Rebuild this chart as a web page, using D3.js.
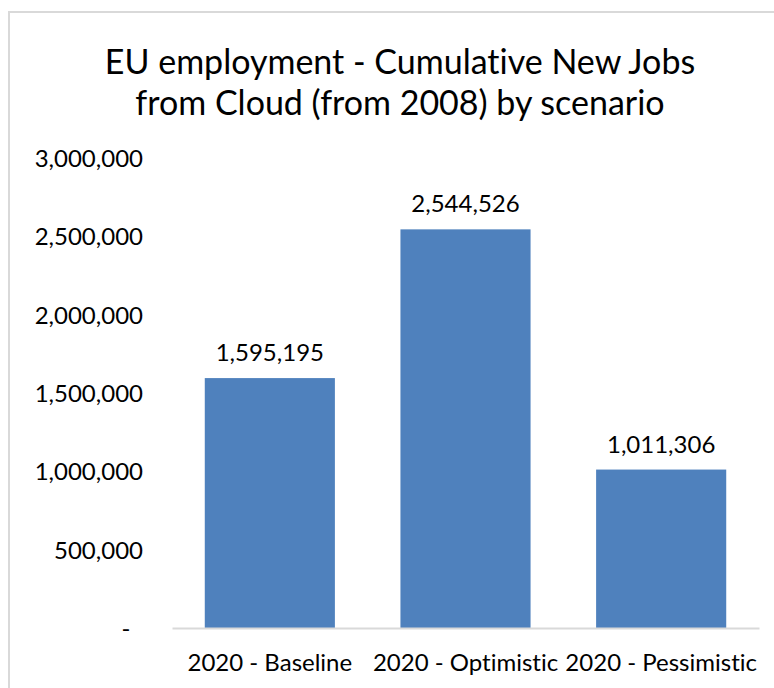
<!DOCTYPE html>
<html>
<head>
<meta charset="utf-8">
<script src="https://cdn.jsdelivr.net/npm/d3@7"></script>
<style>
  html, body { margin: 0; padding: 0; background: #fff; }
  svg { display: block; font-family: Lato, "Open Sans", sans-serif; font-variant-ligatures: none; }
</style>
</head>
<body>
<svg id="chart" width="774" height="688"></svg>
<script>
// Cumulative new EU jobs from cloud computing, by 2020 scenario
const categories = ["2020 - Baseline", "2020 - Optimistic", "2020 - Pessimistic"];
const jobs = [1595195, 2544526, 1011306];
const yTicks = [0, 500000, 1000000, 1500000, 2000000, 2500000, 3000000];
const titleLines = ["EU employment - Cumulative New Jobs", "from Cloud (from 2008) by scenario"];

const svg = d3.select("#chart");
const W = 774, H = 688;
const plot = { left: 172, right: 759, top: 158, bottom: 628 };

// outer chart frame
svg.append("rect")
  .attr("x", 9).attr("y", 12)
  .attr("width", W + 20).attr("height", H + 20)
  .attr("fill", "#fff")
  .attr("stroke", "#d9d9d9").attr("stroke-width", 2);

// title
svg.append("g").selectAll("text")
  .data(titleLines)
  .join("text")
  .attr("x", 400)
  .attr("y", (d, i) => 74 + i * 41)
  .attr("text-anchor", "middle")
  .attr("font-size", 34)
  .attr("fill", "#000")
  .text(d => d);

const x = d3.scaleBand()
  .domain(categories)
  .range([plot.left, plot.right])
  .paddingInner(0.335)
  .paddingOuter(0.1675);

const y = d3.scaleLinear()
  .domain([0, 3000000])
  .range([plot.bottom, plot.top]);

const fmt = d3.format(",");

// y axis labels (no axis line, no gridlines)
const yAxis = d3.axisLeft(y)
  .tickValues(yTicks)
  .tickSize(0)
  .tickPadding(0)
  .tickFormat(v => v === 0 ? "-" : fmt(v));

const yg = svg.append("g")
  .attr("transform", "translate(143,0)")
  .call(yAxis);
yg.select(".domain").remove();
yg.selectAll("text")
  .attr("font-size", 24)
  .attr("font-family", "Lato, sans-serif")
  .attr("fill", "#000")
  .attr("dy", "0.35em");
yg.selectAll(".tick").filter(d => d === 0).select("text")
  .attr("text-anchor", "middle")
  .attr("x", -17);

// bars
svg.append("g").selectAll("rect")
  .data(jobs)
  .join("rect")
  .attr("x", (d, i) => x(categories[i]))
  .attr("width", x.bandwidth())
  .attr("y", d => y(d))
  .attr("height", d => y(0) - y(d))
  .attr("fill", "#4f81bd");

// value labels above the bars
svg.append("g").selectAll("text")
  .data(jobs)
  .join("text")
  .attr("x", (d, i) => x(categories[i]) + x.bandwidth() / 2)
  .attr("y", d => y(d) - 17)
  .attr("text-anchor", "middle")
  .attr("font-size", 24)
  .attr("fill", "#000")
  .text(d => fmt(d));

// category axis
const xAxis = d3.axisBottom(x).tickSize(0).tickPadding(0);
const xg = svg.append("g")
  .attr("transform", `translate(0,${plot.bottom})`)
  .call(xAxis);
xg.select(".domain")
  .attr("stroke", "#d9d9d9")
  .attr("stroke-width", 2);
xg.selectAll("text")
  .attr("font-size", 24)
  .attr("font-family", "Lato, sans-serif")
  .attr("fill", "#000")
  .attr("y", 35)
  .attr("dy", "0.35em");
</script>
</body>
</html>
